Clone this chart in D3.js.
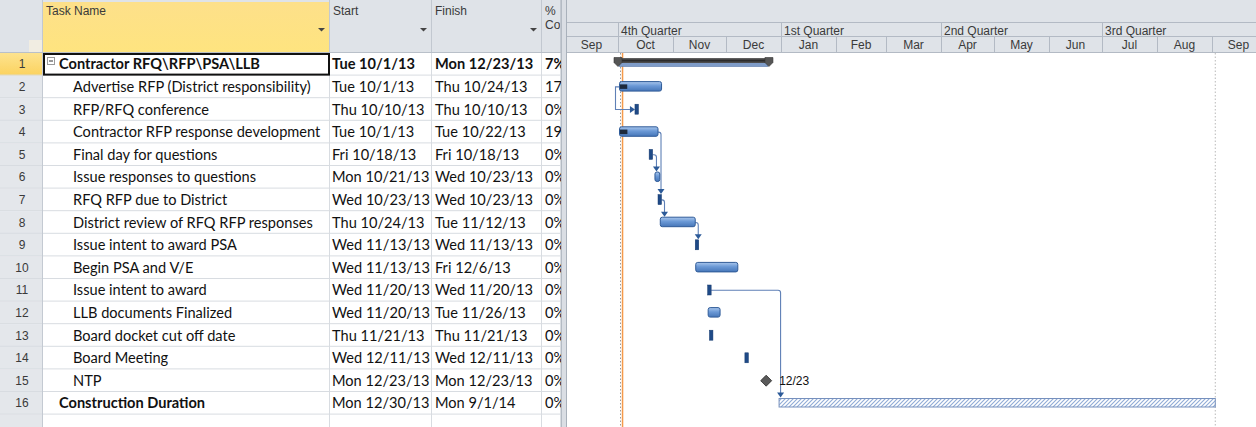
<!DOCTYPE html>
<html>
<head>
<meta charset="utf-8">
<script src="https://cdn.jsdelivr.net/npm/d3@7"></script>
<style>
html, body { margin: 0; padding: 0; background: #fff; overflow: hidden; }
svg { display: block; }
</style>
</head>
<body>
<script>
// task table
const taskIds = [1, 2, 3, 4, 5, 6, 7, 8, 9, 10, 11, 12, 13, 14, 15, 16]
const taskNames = [
  "Contractor RFQ\\RFP\\PSA\\LLB",
  "Advertise RFP (District responsibility)",
  "RFP/RFQ conference",
  "Contractor RFP response development",
  "Final day for questions",
  "Issue responses to questions",
  "RFQ RFP due to District",
  "District review of RFQ RFP responses",
  "Issue intent to award PSA",
  "Begin PSA and V/E",
  "Issue intent to award",
  "LLB documents Finalized",
  "Board docket cut off date",
  "Board Meeting",
  "NTP",
  "Construction Duration"
]
const outlineLevel = [1, 2, 2, 2, 2, 2, 2, 2, 2, 2, 2, 2, 2, 2, 2, 1]
const startDates = ["2013-10-01", "2013-10-01", "2013-10-10", "2013-10-01", "2013-10-18", "2013-10-21",
  "2013-10-23", "2013-10-24", "2013-11-13", "2013-11-13", "2013-11-20", "2013-11-20",
  "2013-11-21", "2013-12-11", "2013-12-23", "2013-12-30"]
const finishDates = ["2013-12-23", "2013-10-24", "2013-10-10", "2013-10-22", "2013-10-18", "2013-10-23",
  "2013-10-23", "2013-11-12", "2013-11-13", "2013-12-06", "2013-11-20", "2013-11-26",
  "2013-11-21", "2013-12-11", "2013-12-23", "2014-09-01"]
const pctComplete = [7, 17, 0, 19, 0, 0, 0, 0, 0, 0, 0, 0, 0, 0, 0, 0]
const taskKind = ["summary", "task", "task", "task", "task", "task", "task", "task", "task",
  "task", "task", "task", "task", "task", "milestone", "external"]
// dependency links (FS = finish-to-start, SS = start-to-start)
const linkFrom = [2, 4, 5, 7, 8, 11]
const linkTo = [3, 7, 6, 8, 9, 16]
const linkType = ["SS", "FS", "FS", "FS", "FS", "FS"]
// timescale
const quarterLabels = ["4th Quarter", "1st Quarter", "2nd Quarter", "3rd Quarter"]
const statusDate = "2013-10-03"

const W = 1256, H = 427
const headH = 53, rowH = 22.6
const gx0 = 566
const parse = d3.timeParse("%Y-%m-%d")
const fmt = d3.timeFormat("%a %-m/%-d/%y")

const tasks = taskIds.map((id, i) => ({
  id, name: taskNames[i], level: outlineLevel[i],
  start: parse(startDates[i]), finish: parse(finishDates[i]),
  pct: pctComplete[i], kind: taskKind[i]
}))
const byId = new Map(tasks.map(t => [t.id, t]))

const svg = d3.select("body").append("svg")
  .attr("width", W).attr("height", H)

const defs = svg.append("defs")
const g1 = defs.append("linearGradient").attr("id", "barGrad").attr("x1", 0).attr("y1", 0).attr("x2", 0).attr("y2", 1)
g1.append("stop").attr("offset", 0).attr("stop-color", "#a9c6ec")
g1.append("stop").attr("offset", 0.45).attr("stop-color", "#6b99d6")
g1.append("stop").attr("offset", 1).attr("stop-color", "#4676b8")
const g2 = defs.append("linearGradient").attr("id", "nameHead").attr("x1", 0).attr("y1", 0).attr("x2", 0).attr("y2", 1)
g2.append("stop").attr("offset", 0).attr("stop-color", "#fde08a")
g2.append("stop").attr("offset", 1).attr("stop-color", "#fee47f")
const g3 = defs.append("linearGradient").attr("id", "sumGrad").attr("x1", 0).attr("y1", 0).attr("x2", 0).attr("y2", 1)
g3.append("stop").attr("offset", 0).attr("stop-color", "#6b6b6b")
g3.append("stop").attr("offset", 0.5).attr("stop-color", "#2b2b2b")
g3.append("stop").attr("offset", 1).attr("stop-color", "#555")
const g4 = defs.append("linearGradient").attr("id", "idSel").attr("x1", 0).attr("y1", 0).attr("x2", 0).attr("y2", 1)
g4.append("stop").attr("offset", 0).attr("stop-color", "#fde38f")
g4.append("stop").attr("offset", 1).attr("stop-color", "#fbd25e")
const hatch = defs.append("pattern").attr("id", "hatch").attr("patternUnits", "userSpaceOnUse")
  .attr("width", 4).attr("height", 4)
hatch.append("rect").attr("width", 4).attr("height", 4).attr("fill", "#fff")
hatch.append("path").attr("d", "M-1,1 L1,-1 M0,4 L4,0 M3,5 L5,3")
  .attr("stroke", "#8fabd6").attr("stroke-width", 1.1)
defs.append("clipPath").attr("id", "ganttClip").append("rect")
  .attr("x", gx0 + 1).attr("y", 0).attr("width", W - gx0).attr("height", H)
defs.append("clipPath").attr("id", "tableClip").append("rect")
  .attr("x", 0).attr("y", 0).attr("width", 561).attr("height", H)

// scales
const y = d3.scaleBand().domain(d3.range(1, 18)).range([headH, headH + 17 * rowH])
const mid = id => y(id) + rowH / 2
const x = d3.scaleTime()
  .domain([parse("2013-10-01"), parse("2014-09-01")])
  .range([619, 1213])
const dayAfter = d => d3.timeDay.offset(d, 1)

// ---------- table ----------
const cols = [
  { key: "id", x0: 0, x1: 43 },
  { key: "name", x0: 43, x1: 330, label: ["Task Name"] },
  { key: "start", x0: 330, x1: 432, label: ["Start"] },
  { key: "finish", x0: 432, x1: 542, label: ["Finish"] },
  { key: "pct", x0: 542, x1: 561, label: ["%", "Co"] }
]
const table = svg.append("g").attr("clip-path", "url(#tableClip)")
const hdrFont = "'Liberation Sans', Arial, sans-serif"
const cellFont = "Lato, 'Open Sans', sans-serif"

// header cells
table.append("rect").attr("x", 0).attr("y", 0).attr("width", 561).attr("height", headH).attr("fill", "#dfe3e8")
table.append("rect").attr("x", 43).attr("y", 2).attr("width", 287).attr("height", headH - 2).attr("fill", "url(#nameHead)")
table.append("rect").attr("x", 29).attr("y", 40).attr("width", 13).attr("height", 12).attr("fill", "#f1ede2")
cols.slice(1).forEach(c => {
  c.label.forEach((l, k) => {
    table.append("text").attr("x", c.x0 + 3).attr("y", 15 + k * 14)
      .attr("font-family", hdrFont).attr("font-size", 12).attr("fill", "#3a3a3a").text(l)
  })
  if (c.key !== "pct") {
    table.append("path")
      .attr("d", `M${c.x1 - 12},28 h7 l-3.5,3.5 z`).attr("fill", "#444")
  }
})
cols.forEach(c => {
  table.append("line").attr("x1", c.x1 - 0.5).attr("x2", c.x1 - 0.5).attr("y1", 0).attr("y2", headH)
    .attr("stroke", "#c2c8d0")
})
table.append("line").attr("x1", 0).attr("x2", 561).attr("y1", headH - 0.5).attr("y2", headH - 0.5).attr("stroke", "#b9c0c9")

// row number column
const rowsAll = d3.range(1, 18)
table.selectAll("rect.idcell").data(rowsAll).enter().append("rect")
  .attr("class", "idcell")
  .attr("x", 0).attr("y", d => y(d)).attr("width", 43).attr("height", rowH)
  .attr("fill", d => d === 1 ? "url(#idSel)" : "#e4e7eb")
table.selectAll("line.rowline").data(rowsAll).enter().append("line")
  .attr("class", "rowline")
  .attr("x1", 0).attr("x2", 561)
  .attr("y1", d => y(d) + rowH - 0.5).attr("y2", d => y(d) + rowH - 0.5)
  .attr("stroke", "#d8dce1")
cols.forEach(c => {
  table.append("line").attr("x1", c.x1 - 0.5).attr("x2", c.x1 - 0.5).attr("y1", headH).attr("y2", H)
    .attr("stroke", c.key === "id" ? "#c4cad2" : "#d8dce1")
})

const rows = table.selectAll("g.row").data(tasks).enter().append("g").attr("class", "row")
rows.append("text").attr("x", 22).attr("y", d => mid(d.id) + 4)
  .attr("text-anchor", "middle").attr("font-family", hdrFont).attr("font-size", 12)
  .attr("fill", "#3a3a3a").text(d => d.id)
// names of top-level rows are bold; the other cells only on the summary row
const cellText = (sel, xPos, fn, boldIf) => sel.append("text")
  .attr("x", xPos).attr("y", d => mid(d.id) + 5)
  .attr("font-family", cellFont).attr("font-size", 14.6)
  .attr("font-weight", d => boldIf(d) ? "bold" : "normal")
  .attr("fill", "#111").text(fn)
const isSummary = d => d.kind === "summary"
cellText(rows, d => d.level === 1 ? 59 : 73, d => d.name, d => d.level === 1)
cellText(rows, 332, d => fmt(d.start), isSummary)
cellText(rows, 435, d => fmt(d.finish), isSummary)
cellText(rows, 545, d => d.pct + "%", isSummary)

// collapse box on the summary row
tasks.filter(isSummary).forEach(d => {
  table.append("rect").attr("x", 47.5).attr("y", y(d.id) + 4.5).attr("width", 7).attr("height", 7)
    .attr("fill", "#fff").attr("stroke", "#9a9a9a")
  table.append("line").attr("x1", 49).attr("x2", 53).attr("y1", y(d.id) + 8).attr("y2", y(d.id) + 8)
    .attr("stroke", "#333")
})
// selected cell
table.append("rect").attr("x", 44).attr("y", y(1) + 1).attr("width", 285).attr("height", rowH - 2)
  .attr("fill", "none").attr("stroke", "#111").attr("stroke-width", 2)

// splitter
svg.append("rect").attr("x", 561).attr("y", 0).attr("width", 5).attr("height", H).attr("fill", "#dadee4")
svg.append("line").attr("x1", 561.5).attr("x2", 561.5).attr("y1", 0).attr("y2", H).attr("stroke", "#b4bbc4")
svg.append("line").attr("x1", gx0 + 0.5).attr("x2", gx0 + 0.5).attr("y1", 0).attr("y2", H).attr("stroke", "#a9b1bb")

// ---------- gantt ----------
const gantt = svg.append("g").attr("clip-path", "url(#ganttClip)")

// timescale header
gantt.append("rect").attr("x", gx0).attr("y", 0).attr("width", W - gx0).attr("height", headH).attr("fill", "#dfe3e8")
const tier1 = 23, tier2 = 37
;[tier1, tier2, headH].forEach(v => {
  gantt.append("line").attr("x1", gx0).attr("x2", W).attr("y1", v - 0.5).attr("y2", v - 0.5).attr("stroke", "#b3bac4")
})
const quarters = d3.timeMonth.every(3).range(parse("2013-10-01"), parse("2014-10-01"))
gantt.selectAll("g.q").data(quarters).enter().append("g").attr("class", "q")
  .each(function (d, i) {
    const g = d3.select(this), xq = Math.round(x(d)) - 1
    g.append("line").attr("x1", xq + 0.5).attr("x2", xq + 0.5).attr("y1", tier1).attr("y2", tier2).attr("stroke", "#b3bac4")
    g.append("text").attr("x", xq + 3).attr("y", tier1 + 11.5)
      .attr("font-family", hdrFont).attr("font-size", 12).attr("fill", "#3a3a3a").text(quarterLabels[i])
  })
const months = d3.timeMonth.range(parse("2013-09-01"), parse("2014-10-01"))
gantt.selectAll("g.m").data(months).enter().append("g").attr("class", "m")
  .each(function (d) {
    const g = d3.select(this)
    const xa = Math.round(x(d)) - 1, xb = Math.round(x(d3.timeMonth.offset(d, 1))) - 1
    g.append("line").attr("x1", xa + 0.5).attr("x2", xa + 0.5).attr("y1", tier2).attr("y2", headH).attr("stroke", "#b3bac4")
    g.append("text").attr("x", (xa + xb) / 2).attr("y", tier2 + 12)
      .attr("text-anchor", "middle").attr("font-family", hdrFont).attr("font-size", 12)
      .attr("fill", "#3a3a3a").text(d3.timeFormat("%b")(d))
  })
gantt.append("line").attr("x1", x(parse("2014-10-01")) - 0.5).attr("x2", x(parse("2014-10-01")) - 0.5)
  .attr("y1", tier1).attr("y2", headH).attr("stroke", "#b3bac4")

// project start / finish and status date lines
const projStart = tasks[0].start
const projEnd = dayAfter(tasks[tasks.length - 1].finish)
gantt.append("line").attr("x1", x(projStart) + 1.5).attr("x2", x(projStart) + 1.5)
  .attr("y1", headH).attr("y2", H).attr("stroke", "#9a9a9a").attr("stroke-dasharray", "1.5,2")
gantt.append("line").attr("x1", x(projEnd) + 0.5).attr("x2", x(projEnd) + 0.5)
  .attr("y1", headH).attr("y2", H).attr("stroke", "#b8b8b8").attr("stroke-dasharray", "1.5,2")
gantt.append("line").attr("x1", x(parse(statusDate))).attr("x2", x(parse(statusDate)))
  .attr("y1", headH).attr("y2", H).attr("stroke", "#f59a4a").attr("stroke-width", 1.5)

// bar extents
const ext = d => {
  const a = x(d.start), b = x(dayAfter(d.finish))
  if (d.kind === "milestone") return [a, a]
  if (d.kind === "task" && +d.start === +d.finish) return [a, Math.max(a + 3.5, b)]
  return [a, b]
}

// links (drawn under bars)
const linkG = gantt.append("g")
linkFrom.forEach((f, i) => {
  const p = byId.get(f), s = byId.get(linkTo[i])
  const [p0, p1] = ext(p), [s0] = ext(s)
  const py = mid(p.id), sy = y(s.id) + 5.5
  if (linkType[i] === "SS") {
    const xv = p0 - 3.5, ty = mid(s.id)
    linkG.append("path").attr("d", `M${p0},${py} H${xv} V${ty} H${s0 - 5}`)
      .attr("fill", "none").attr("stroke", "#5f80b6").attr("stroke-width", 1.1)
    linkG.append("path").attr("d", `M${s0 - 5},${ty - 3.5} L${s0},${ty} L${s0 - 5},${ty + 3.5} z`).attr("fill", "#2c5a98")
  } else {
    const xv = Math.max(p1 + 3, s0 + 2), r = 2.5
    linkG.append("path").attr("d", `M${p1},${py} H${xv - r} Q${xv},${py} ${xv},${py + r} V${sy - 4}`)
      .attr("fill", "none").attr("stroke", "#5f80b6").attr("stroke-width", 1.1)
    linkG.append("path").attr("d", `M${xv - 3.5},${sy - 5} H${xv + 3.5} L${xv},${sy} z`).attr("fill", "#2c5a98")
  }
})

// bars
const barG = gantt.append("g")
tasks.forEach(d => {
  const [a, b] = ext(d), top = y(d.id)
  if (d.kind === "summary") {
    barG.append("rect").attr("x", a).attr("y", top + 9).attr("width", b - a).attr("height", 4.5)
      .attr("fill", "#7f9cc8").attr("stroke", "#5a78a8").attr("stroke-width", 0.6)
    barG.append("rect").attr("x", a - 3).attr("y", top + 5).attr("width", b - a + 6).attr("height", 5)
      .attr("rx", 1).attr("fill", "url(#sumGrad)")
    ;[a - 1, b + 1].forEach(cx => {
      barG.append("path")
        .attr("d", `M${cx - 4},${top + 4.5} h8 v5 l-4,4 l-4,-4 z`)
        .attr("fill", "#555").attr("stroke", "#333").attr("stroke-width", 0.6)
    })
  } else if (d.kind === "milestone") {
    const cy = mid(d.id), s = 5.5
    barG.append("path").attr("d", `M${a},${cy - s} L${a + s},${cy} L${a},${cy + s} L${a - s},${cy} z`)
      .attr("fill", "#5a5a5a").attr("stroke", "#2a2a2a").attr("stroke-width", 0.8)
    barG.append("text").attr("x", a + 13).attr("y", cy + 4)
      .attr("font-family", hdrFont).attr("font-size", 12).attr("fill", "#111")
      .text(d3.timeFormat("%-m/%-d")(d.start))
  } else if (d.kind === "external") {
    barG.append("rect").attr("x", a + 0.5).attr("y", top + 6.5).attr("width", b - a).attr("height", 8.5)
      .attr("fill", "url(#hatch)").attr("stroke", "#7690bd").attr("stroke-width", 1)
  } else if (+d.start === +d.finish) {
    barG.append("rect").attr("x", a).attr("y", top + 6).attr("width", b - a).attr("height", 10)
      .attr("fill", "#1f4a87").attr("stroke", "#163a6e").attr("stroke-width", 0.5)
  } else {
    barG.append("rect").attr("x", a + 0.5).attr("y", top + 6).attr("width", b - a - 0.5).attr("height", 9.5)
      .attr("rx", 2).attr("fill", "url(#barGrad)").attr("stroke", "#2f5b98").attr("stroke-width", 1)
    if (d.pct > 0) {
      barG.append("rect").attr("x", a + 1).attr("y", mid(d.id) - 2.5)
        .attr("width", (b - a) * d.pct / 100).attr("height", 4.5).attr("fill", "#1d2a3d")
    }
  }
})
</script>
</body>
</html>
